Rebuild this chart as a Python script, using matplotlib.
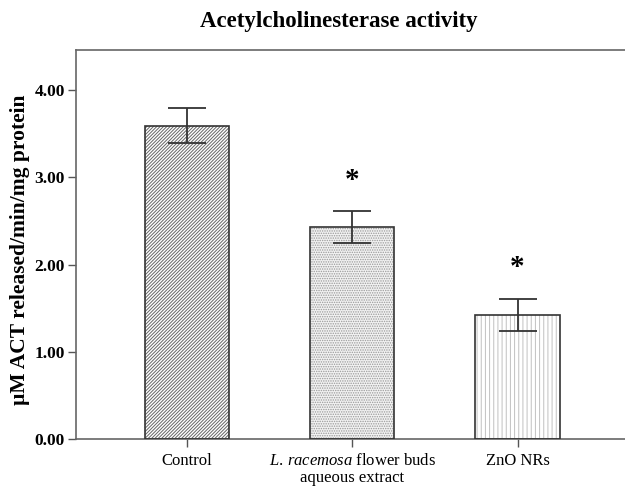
import numpy as np
import matplotlib
matplotlib.use('Agg')
import matplotlib.pyplot as plt

groups = ['Control', r'$\it{L.\,racemosa}$ flower buds' + '\naqueous extract', 'ZnO NRs']
means = [3.59, 2.43, 1.42]
errors = [0.20, 0.18, 0.18]
hatches = ['//////////', '.......', '||||']
star_y = [None, 2.96, 1.97]
yticks = [0, 1, 2, 3, 4]

plt.rcParams['font.family'] = ['Liberation Serif', 'DejaVu Serif']
plt.rcParams['mathtext.fontset'] = 'custom'
plt.rcParams['mathtext.it'] = 'Liberation Serif:italic'
plt.rcParams['mathtext.rm'] = 'Liberation Serif'
plt.rcParams['hatch.linewidth'] = 0.7

fig = plt.figure(figsize=(6.25, 4.88), dpi=100)
ax = fig.add_axes([76 / 625, 1 - 439 / 488, 549 / 625, 389 / 488])

x = np.arange(len(means))
hatch_colors = ['#666666', '#999999', '#c0c0c0']
face_colors = ['white', '#f2f2f2', 'white']
for i in range(len(means)):
    ax.bar(x[i], means[i], width=0.51, color=face_colors[i], edgecolor=hatch_colors[i],
           hatch=hatches[i], linewidth=0, zorder=2)
ax.bar(x, means, width=0.51, color='none', edgecolor='#333333', linewidth=1.2, zorder=3)
ax.errorbar(x, means, yerr=errors, fmt='none', ecolor='#333333', elinewidth=1.3,
            capsize=13.5, capthick=1.3, zorder=4)

for i, s in enumerate(star_y):
    if s is not None:
        ax.text(x[i], s, '*', ha='center', va='center', fontsize=21, fontweight='bold')

ax.set_xlim(-0.67, 2.65)
ax.set_ylim(0, 4.46)
ax.set_yticks(yticks)
ax.set_yticklabels(['%.2f' % v for v in yticks], fontsize=12.5, fontweight='bold')
ax.set_xticks(x)
ax.set_xticklabels(groups, fontsize=12, linespacing=1.1)
ax.tick_params(axis='both', direction='out', length=6, width=1, color='#555555')
ax.tick_params(axis='x', pad=4)
ax.tick_params(axis='y', pad=2)

for sp in ['left', 'bottom', 'top']:
    ax.spines[sp].set_color('#666666')
    ax.spines[sp].set_linewidth(1.2)
ax.spines['right'].set_visible(False)

ax.set_ylabel(u'\u00b5M ACT released/min/mg protein', fontsize=15.5, fontweight='bold')
ax.yaxis.set_label_coords(-0.083, 0.487)
fig.text(0.5 * (196 + 482) / 625, 1 - 22 / 488, 'Acetylcholinesterase activity',
         ha='center', va='center', fontsize=16.5, fontweight='bold')

fig.savefig('out.png', dpi=100)
